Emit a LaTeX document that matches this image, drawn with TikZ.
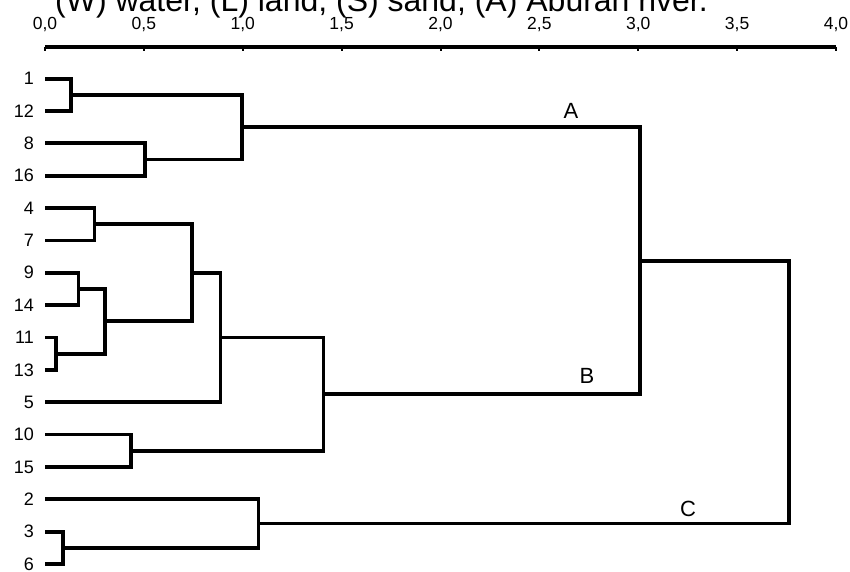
\documentclass[tikz,border=0pt]{standalone}
\usepackage{fontspec}
\setmainfont{Liberation Sans}
\begin{document}
\begin{tikzpicture}[x=1pt,y=-1pt,
  branch/.style={line width=3.8pt, line join=miter, line cap=butt},
  axisline/.style={line width=3.8pt, line cap=butt},
  tickmark/.style={line width=2pt},
  leaflab/.style={anchor=east, font=\fontsize{18}{20}\selectfont, inner sep=0pt},
  ticklab/.style={anchor=base, font=\fontsize{17.5}{20}\selectfont, inner sep=0pt},
  clusterlab/.style={anchor=base, font=\fontsize{22}{24}\selectfont, inner sep=0pt},
  titletext/.style={anchor=base west, font=\fontsize{32}{36}\selectfont, inner sep=0pt}]
\useasboundingbox (0,0) rectangle (850,572);
\fill[white] (0,0) rectangle (850,572);

% title (cut at the top)
\node[titletext] (title) at (55,11.5) {(W) water, (L) land, (S) sand, (A) Aburan river.};

% axis
\coordinate (ax0) at (45,47);
\coordinate (ax8) at (836,47);
\draw[axisline] (ax0) -- (ax8);
\foreach \k/\t in {0/{0,0},1/{0,5},2/{1,0},3/{1,5},4/{2,0},5/{2,5},6/{3,0},7/{3,5},8/{4,0}}{
  \coordinate (tk\k) at ({45+98.875*\k},47);
  \draw[tickmark] (tk\k) -- ++(0,4.5);
  \node[ticklab] (tl\k) at ({45+98.875*\k},30) {\t};
}

% leaves
\foreach \n/\y in {1/78.7,12/111.05,8/143.4,16/175.75,4/208.1,7/240.45,9/272.8,14/305.15,
                   11/337.5,13/369.85,5/402.2,10/434.55,15/466.9,2/499.25,3/531.6,6/563.95}{
  \coordinate (l\n) at (45,\y);
  \node[leaflab] (n\n) at (34,\y) {\n};
}

% joints
\coordinate (j1) at (71,94.875);
\coordinate (j8) at (145,159.575);
\coordinate (jA) at (242,127.225);
\coordinate (j4) at (94.5,224.275);
\coordinate (j9) at (78.5,288.975);
\coordinate (j11) at (56,353.675);
\coordinate (j9b) at (105,321.325);
\coordinate (j4b) at (192,272.8);
\coordinate (j5) at (220.5,337.5);
\coordinate (j10) at (131,450.725);
\coordinate (jB) at (323.5,394.1125);
\coordinate (jAB) at (640,260.67);
\coordinate (j3) at (63,547.775);
\coordinate (jC) at (258.5,523.51);
\coordinate (jR) at (789,392.09);

% branches
\draw[branch] (l1) -| (j1) |- (l12);
\draw[branch] (l8) -| (j8) |- (l16);
\draw[branch] (j1) -| (jA) |- (j8);
\draw[branch] (l4) -| (j4) |- (l7);
\draw[branch] (l9) -| (j9) |- (l14);
\draw[branch] (l11) -| (j11) |- (l13);
\draw[branch] (j9) -| (j9b) |- (j11);
\draw[branch] (j4) -| (j4b) |- (j9b);
\draw[branch] (j4b) -| (j5) |- (l5);
\draw[branch] (l10) -| (j10) |- (l15);
\draw[branch] (j5) -| (jB) |- (j10);
\draw[branch] (jA) -| (jAB) |- (jB);
\draw[branch] (l3) -| (j3) |- (l6);
\draw[branch] (l2) -| (jC) |- (j3);
\draw[branch] (jAB) -| (jR) |- (jC);

% cluster labels
\node[clusterlab] (labA) at (571,119) {A};
\node[clusterlab] (labB) at (587,383.3) {B};
\node[clusterlab] (labC) at (688,516.7) {C};
\end{tikzpicture}
\end{document}
